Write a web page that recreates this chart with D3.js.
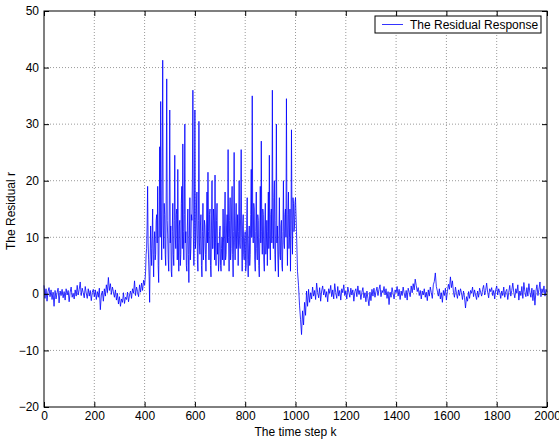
<!DOCTYPE html>
<html>
<head>
<meta charset="utf-8">
<script src="https://cdn.jsdelivr.net/npm/d3@7"></script>
<style>
  body { margin: 0; background: #fff; }
  text { font-family: "Liberation Sans", Arial, sans-serif; }
</style>
</head>
<body>
<svg id="chart"></svg>
<script>
// residual before the fault, k = 0..396, every 4 steps
const quietStart = 0, quietStep = 4;
const quietValues = [
  1.5, -0.8, 0.9, -1.3, 0.4, 1.1, -0.5, 0.7, -1.0, 0.3,
  -2.2, 0.6, -0.9, 0.2, 1.0, -1.6, 0.5, -0.3, 0.8, -0.7,
  0.4, -1.1, 0.9, -0.2, 0.6, -1.4, 0.3, 1.2, -0.6, 0.1,
  -0.9, 0.7, -0.4, 1.5, -0.2, 0.8, 2.1, -0.3, 1.0, 0.2,
  -0.7, 1.3, 0.1, -0.8, 0.9, -0.4, 0.6, -1.2, 0.3, 0.8,
  -0.5, 0.7, -1.0, 0.4, -0.6, 1.0, -2.8, -0.2, 0.5, -1.3,
  0.9, -0.4, 1.6, 0.2, 2.9, 0.6, 1.8, -0.1, 1.2, 0.4,
  -0.6, 0.7, -1.1, 0.1, -1.8, -0.5, -2.2, -0.9, -1.5, 0.2,
  -1.7, -0.6, -1.0, 0.3, -1.4, -0.2, 0.5, -0.8, 0.9, 0.1,
  2.3, -0.3, 1.2, 0.4, -0.5, 1.6, 0.3, 1.9, 0.6, 2.4
];

// residual during the fault, k = 400..998, every 2 steps
const faultStart = 400, faultStep = 2;
const faultValues = [
  1.5, 2.5, 4, 7, 8, 12, 19, 9, 6, 3, -1.5, 6, 12, 8, 5, 10, 15, 7, 3, 9,
  11, 6, 7, 13, 14, 9, 19, 5, 2, 12, 26, 10, 34, 15, 6, 21, 41.3, 12, 8, 16,
  14, 7, 5, 18, 38, 13, 10, 6, 4, 15, 32.5, 9, 12, 4, 3, 11, 16, 7, 5, 13,
  24.5, 10, 8, 14, 15, 6, 22, 9, 4, 12, 13, 5, 7, 16, 19, 8, 26.5, 11, 6, 14,
  30, 9, 11, 5, 4, 12, 15, 7, 2, 10, 17, 6, 8, 14, 13, 20, 36, 10, 5, 12,
  32.5, 8, 10, 15, 18, 6, 4, 13, 30.5, 9, 7, 12, 14, 5, 3, 11, 16, 6, 9, 13,
  12, 7, 4, 10, 18, 9, 21.5, 11, 6, 14, 15, 5, 3, 12, 20, 8, 8, 15, 13, 6,
  21, 9, 5, 13, 16, 7, 9, 4, 6, 11, 12, 5, 4, 8, 10, 6, 15, 9, 5, 12,
  18, 6, 7, 12, 14, 9, 25.5, 10, 4, 13, 17, 6, 8, 15, 19, 7, 3, 11, 25, 9,
  6, 12, 16, 8, 10, 14, 5, 11, 20, 9, 8, 15, 25.5, 10, 4, 12, 14, 7, 6, 10,
  11, 4, 5, 13, 17, 6, 3, 9, 12, 5, 7, 14, 22, 10, 35, 12, 9, 16, 15, 6,
  4, 11, 18, 8, 6, 14, 13, 5, 3, 10, 19, 9, 27, 11, 7, 15, 14, 6, 4, 12,
  16, 7, 9, 13, 5, 11, 18, 8, 24.5, 10, 6, 14, 15, 9, 36, 12, 8, 17, 20, 7,
  4, 13, 30, 9, 12, 6, 3, 10, 17, 7, 6, 12, 13, 5, 4, 11, 20, 9, 8, 14,
  15, 10, 34.5, 12, 5, 14, 18, 8, 10, 15, 4, 11, 29, 13, 7, 17, 16, 11, 12, 16
];

// residual after the fault, k = 1000..2000, every 4 steps
const afterStart = 1000, afterStep = 4;
const afterValues = [
  17, 11, 4, 1.5, -2, -4.5, -7.2, -3, -5.5, -1.5,
  -3.8, 0.5, -2.2, 0.8, -1.5, 0.2, -0.9, 1.2, -0.4, 0.6,
  -1.0, 1.9, 0.3, -0.7, 1.1, -1.3, 0.5, 1.4, -0.2, 0.8,
  -0.6, 0.4, -1.4, 0.9, 0.1, 1.5, -0.5, 0.7, -0.9, 1.8,
  0.2, -0.8, 1.3, -0.4, 0.6, -1.1, 0.9, 0.2, 1.6, -0.3,
  0.5, -0.9, 1.2, 0.3, -0.6, 1.0, -0.2, 0.7, -1.3, 0.4,
  0.9, -0.5, 1.4, -0.1, 0.6, -1.0, 0.3, 1.1, -0.7, 0.2,
  -1.4, 0.5, -0.8, -2.1, 0.3, -1.2, 0.8, -0.4, 1.0, -0.6,
  0.4, 1.2, -0.3, 0.8, 1.6, -0.5, 0.6, 0.2, 1.3, -0.2,
  0.9, -0.8, 0.4, -1.9, 0.3, -0.6, 1.1, 0.1, -0.9, 0.7,
  0.2, 1.3, -0.4, 0.8, -1.0, 0.5, -0.3, 1.2, 0.1, -0.7,
  0.6, -1.1, 1.0, 0.3, -0.5, 1.4, 0.2, 1.8, 0.7, 2.6,
  1.5, 0.4, 1.1, -0.3, 0.6, -0.9, 0.5, -0.2, 0.9, -0.6,
  0.3, -1.2, 0.7, -0.4, 1.2, 0.2, -0.8, 1.6, 2.2, 3.7,
  1.3, 0.5, -0.4, 0.9, -0.9, 0.2, -1.5, 0.6, -0.3, 1.0,
  -1.1, 0.4, 1.7, 0.8, 3.0, 1.1, 2.3, 0.3, -0.6, 1.2,
  0.1, -0.8, 0.7, -0.3, 0.9, 0.2, -1.0, 0.5, -0.6, -2.5,
  -0.5, -1.3, 0.4, -0.8, 0.6, 0.1, 1.2, -0.5, 0.7, -0.2,
  -1.0, 0.5, -0.6, 1.0, 0.3, -0.4, 0.8, 1.5, -0.2, 0.6,
  1.9, 0.3, -0.7, 0.9, 0.4, 1.1, -0.3, 0.6, -0.9, 0.7,
  1.4, -0.2, 0.9, 0.3, -0.8, 0.5, -0.3, 1.2, -0.6, 0.4,
  0.8, -1.0, 0.3, 1.5, -0.4, 0.6, 1.9, 0.2, -0.7, 0.9,
  0.1, 1.6, -1.1, 0.5, -0.3, 1.3, -0.8, 2.0, 0.4, -0.5,
  1.1, -0.4, 1.8, 0.2, -0.6, 1.0, -1.2, 0.7, -2.0, 0.5,
  1.6, -0.3, 0.8, 2.1, -0.5, 0.9, 0.2, 1.4, -0.4, 0.8,
  0.3
];

const xTicks = [0, 200, 400, 600, 800, 1000, 1200, 1400, 1600, 1800, 2000];
const yTicks = [-20, -10, 0, 10, 20, 30, 40, 50];
const legendLabel = 'The Residual Response';

const width = 559, height = 440;
const margin = { top: 11, right: 12, bottom: 33, left: 44 };
const plotW = width - margin.left - margin.right;
const plotH = height - margin.top - margin.bottom;

function toPoints(start, step, values) {
  return values.map(function (v, i) { return { k: start + i * step, r: v }; });
}
const points = toPoints(quietStart, quietStep, quietValues)
  .concat(toPoints(faultStart, faultStep, faultValues))
  .concat(toPoints(afterStart, afterStep, afterValues));

const x = d3.scaleLinear().domain([0, 2000]).range([0, plotW]);
const y = d3.scaleLinear().domain([-20, 50]).range([plotH, 0]);

const svg = d3.select('#chart').attr('width', width).attr('height', height);
const g = svg.append('g').attr('transform', 'translate(' + margin.left + ',' + margin.top + ')');

// dotted grid
g.append('g').selectAll('line').data(xTicks.slice(1, -1)).enter().append('line')
  .attr('x1', d => x(d)).attr('x2', d => x(d))
  .attr('y1', 0).attr('y2', plotH)
  .attr('stroke', '#9a9a9a').attr('stroke-width', 1)
  .attr('stroke-dasharray', '1,2');
g.append('g').selectAll('line').data(yTicks.slice(1, -1)).enter().append('line')
  .attr('x1', 0).attr('x2', plotW)
  .attr('y1', d => y(d)).attr('y2', d => y(d))
  .attr('stroke', '#9a9a9a').attr('stroke-width', 1)
  .attr('stroke-dasharray', '1,2');

// residual line
const line = d3.line().x(d => x(d.k)).y(d => y(d.r));
g.append('path').datum(points)
  .attr('d', line)
  .attr('fill', 'none')
  .attr('stroke', '#0000ff')
  .attr('stroke-width', 0.8);

// axes, ticks pointing inward on all four sides like MATLAB
const tickLen = 5;
const fmt = d3.format('d');
const xBottom = g.append('g').attr('transform', 'translate(0,' + plotH + ')')
  .call(d3.axisBottom(x).tickValues(xTicks).tickFormat(fmt).tickSizeInner(-tickLen).tickSizeOuter(0).tickPadding(4));
const xTop = g.append('g')
  .call(d3.axisTop(x).tickValues(xTicks).tickSizeInner(-tickLen).tickSizeOuter(0).tickFormat(''));
const yLeft = g.append('g')
  .call(d3.axisLeft(y).tickValues(yTicks).tickFormat(fmt).tickSizeInner(-tickLen).tickSizeOuter(0).tickPadding(5));
const yRight = g.append('g').attr('transform', 'translate(' + plotW + ',0)')
  .call(d3.axisRight(y).tickValues(yTicks).tickSizeInner(-tickLen).tickSizeOuter(0).tickFormat(''));

[xBottom, xTop, yLeft, yRight].forEach(function (a) {
  a.select('.domain').remove();
  a.selectAll('line').attr('stroke', '#000');
  a.selectAll('text').attr('fill', '#000').style('font-size', '12px')
    .style('font-family', '"Liberation Sans", Arial, sans-serif');
});

g.append('rect')
  .attr('width', plotW).attr('height', plotH)
  .attr('fill', 'none').attr('stroke', '#000').attr('stroke-width', 1);

// axis labels
svg.append('text')
  .attr('x', margin.left + plotW / 2).attr('y', 436)
  .attr('text-anchor', 'middle').style('font-size', '12px')
  .text('The time step k');
svg.append('text')
  .attr('transform', 'translate(15,' + (margin.top + plotH / 2 + 2) + ') rotate(-90)')
  .attr('text-anchor', 'middle').style('font-size', '12px')
  .text('The Residual r');

// legend
const legend = svg.append('g').attr('transform', 'translate(375,16)');
legend.append('rect')
  .attr('width', 166).attr('height', 17)
  .attr('fill', '#fff').attr('stroke', '#000').attr('stroke-width', 1);
legend.append('line')
  .attr('x1', 7).attr('x2', 28).attr('y1', 8.5).attr('y2', 8.5)
  .attr('stroke', '#0000ff').attr('stroke-width', 0.8);
legend.append('text')
  .attr('x', 35).attr('y', 13).style('font-size', '12px')
  .text(legendLabel);
</script>
</body>
</html>
